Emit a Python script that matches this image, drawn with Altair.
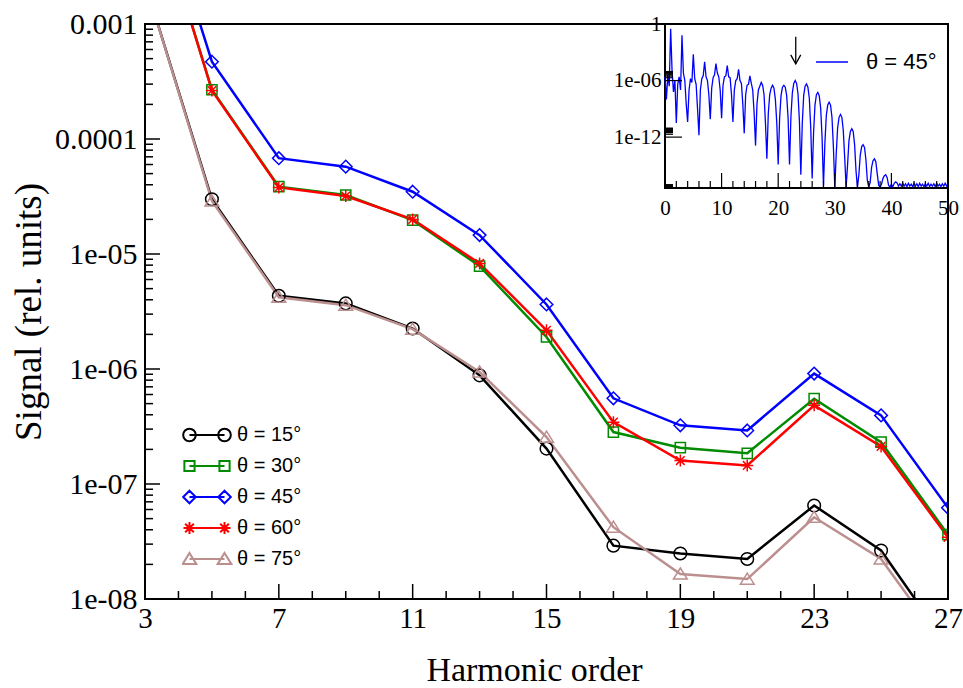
import json
import altair as alt
import pandas as pd

# ---------------- main panel data ----------------
harmonics = [3, 5, 7, 9, 11, 13, 15, 17, 19, 21, 23, 25, 27]
series_names = ["θ = 15°", "θ = 30°", "θ = 45°", "θ = 60°", "θ = 75°"]
signal_15 = [2.3e-3, 2.99e-5, 4.33e-6, 3.72e-6, 2.25e-6, 8.81e-7, 2.03e-7, 2.91e-8, 2.49e-8, 2.23e-8, 6.50e-8, 2.64e-8, 3.9e-9]
signal_30 = [2.1e-2, 2.68e-4, 3.85e-5, 3.26e-5, 1.97e-5, 7.85e-6, 1.90e-6, 2.83e-7, 2.07e-7, 1.85e-7, 5.52e-7, 2.31e-7, 3.63e-8]
signal_45 = [3.3e-2, 4.70e-4, 6.81e-5, 5.75e-5, 3.48e-5, 1.46e-5, 3.64e-6, 5.56e-7, 3.24e-7, 2.92e-7, 9.12e-7, 3.95e-7, 6.21e-8]
signal_60 = [2.1e-2, 2.64e-4, 3.79e-5, 3.19e-5, 2.00e-5, 8.28e-6, 2.17e-6, 3.45e-7, 1.60e-7, 1.45e-7, 4.83e-7, 2.12e-7, 3.44e-8]
signal_75 = [2.3e-3, 2.89e-5, 4.21e-6, 3.59e-6, 2.22e-6, 9.42e-7, 2.56e-7, 4.21e-8, 1.65e-8, 1.49e-8, 5.14e-8, 2.23e-8, 3.5e-9]
series_colors = ["#000000", "#008b00", "#0000ff", "#ff0000", "#bc8f8f"]
marker_kinds = ["circle", "square", "diamond", "asterisk", "triangle"]

x_domain = [3, 27]
y_domain = [1e-8, 1e-3]
x_major = [3, 7, 11, 15, 19, 23, 27]
x_minor = [4, 5, 6, 8, 9, 10, 12, 13, 14, 16, 17, 18, 20, 21, 22, 24, 25, 26]
y_major = [1e-8, 1e-7, 1e-6, 1e-5, 1e-4, 1e-3]
y_labels = ["0.001", "0.0001", "1e-05", "1e-06", "1e-07", "1e-08"]
y_minor = [m * 10.0 ** k for k in range(-8, -3) for m in range(2, 10)]

# ---------------- inset data (θ = 45° spectrum) ----------------
inset_label = "θ = 45°"
inset_order = [
    0, 0.25, 0.5, 0.75, 1, 1.25, 1.5, 1.75, 2, 2.25, 2.5, 2.75, 3, 3.25, 3.5, 3.75,
    4, 4.25, 4.5, 4.75, 5, 5.25, 5.5, 5.75, 6, 6.25, 6.5, 6.75, 7, 7.25, 7.5, 7.75,
    8, 8.25, 8.5, 8.75, 9, 9.25, 9.5, 9.75, 10, 10.25, 10.5, 10.75, 11, 11.25, 11.5, 11.75,
    12, 12.25, 12.5, 12.75, 13, 13.25, 13.5, 13.75, 14, 14.25, 14.5, 14.75, 15, 15.25, 15.5, 15.75,
    16, 16.25, 16.5, 16.75, 17, 17.25, 17.5, 17.75, 18, 18.25, 18.5, 18.75, 19, 19.25, 19.5, 19.75,
    20, 20.25, 20.5, 20.75, 21, 21.25, 21.5, 21.75, 22, 22.25, 22.5, 22.75, 23, 23.25, 23.5, 23.75,
    24, 24.25, 24.5, 24.75, 25, 25.25, 25.5, 25.75, 26, 26.25, 26.5, 26.75, 27, 27.25, 27.5, 27.75,
    28, 28.25, 28.5, 28.75, 29, 29.25, 29.5, 29.75, 30, 30.25, 30.5, 30.75, 31, 31.25, 31.5, 31.75,
    32, 32.25, 32.5, 32.75, 33, 33.25, 33.5, 33.75, 34, 34.25, 34.5, 34.75, 35, 35.25, 35.5, 35.75,
    36, 36.25, 36.5, 36.75, 37, 37.25, 37.5, 37.75, 38, 38.25, 38.5, 38.75, 39, 39.25, 39.5, 39.75,
    40, 40.25, 40.5, 40.75, 41, 41.25, 41.5, 41.75, 42, 42.25, 42.5, 42.75, 43, 43.25, 43.5, 43.75,
    44, 44.25, 44.5, 44.75, 45, 45.25, 45.5, 45.75, 46, 46.25, 46.5, 46.75, 47, 47.25, 47.5, 47.75,
    48, 48.25, 48.5, 48.75, 49, 49.25, 49.5, 49.75, 50,
]
inset_log10 = [
    -5.6, -8.0, -5.4, -6.6, -0.5, -5.0, -7.2, -6.0, -10.5, -6.4, -5.6, -7.0, -1.2, -5.2, -6.0, -8.5,
    -10.4, -7.0, -5.8, -6.2, -3.2, -5.8, -6.4, -9.0, -11.8, -7.0, -5.8, -5.5, -4.0, -5.6, -6.0, -7.5,
    -10.1, -6.8, -5.7, -5.4, -4.2, -5.2, -5.6, -7.0, -10.0, -6.5, -5.6, -5.5, -4.4, -5.6, -5.7, -7.5,
    -10.4, -7.0, -6.0, -5.8, -4.8, -6.0, -6.3, -8.5, -11.6, -7.5, -6.5, -6.4, -5.5, -6.3, -7.0, -9.5,
    -12.9, -8.5, -7.0, -6.6, -6.2, -6.5, -7.5, -10.5, -14.3, -9.5, -7.5, -6.8, -6.5, -6.8, -8.0, -10.5,
    -14.9, -10.0, -7.6, -6.7, -6.5, -6.7, -7.6, -10.0, -14.9, -9.8, -7.3, -6.3, -6.0, -6.3, -7.4, -10.3,
    -16.0, -10.6, -7.6, -6.6, -6.35, -6.7, -7.9, -11.0, -16.4, -11.5, -8.6, -7.5, -7.25, -7.6, -8.9, -12.0,
    -17.2, -12.6, -9.7, -8.6, -8.3, -8.6, -9.9, -13.0, -17.3, -13.8, -11.0, -9.9, -9.6, -9.9, -11.3, -14.2,
    -17.3, -15.0, -12.4, -11.4, -11.1, -11.4, -12.8, -15.6, -17.3, -16.0, -13.9, -13.0, -12.8, -13.1, -14.4, -16.6,
    -17.3, -16.8, -15.2, -14.5, -14.3, -14.6, -15.9, -17.1, -17.3, -17.0, -16.4, -16.1, -16.0, -16.3, -17.1, -17.3,
    -17.0, -17.25, -16.9, -16.75, -16.85, -17.2, -16.95, -17.2, -16.9, -17.2, -16.95, -17.25, -16.9, -17.2, -17.0, -17.25,
    -16.9, -17.2, -16.95, -17.25, -16.9, -17.2, -17.0, -17.25, -16.95, -17.2, -16.9, -17.25, -17.0, -17.2, -16.95, -17.25,
    -16.9, -17.2, -17.0, -17.25, -16.95, -17.2, -16.9, -17.2, -17.0,
]
inset_x_domain = [0, 50]
inset_y_domain = [4e-18, 1.0]
inset_x_labels = [0, 10, 20, 30, 40, 50]
inset_x_major = [10, 20, 30, 40]
inset_x_minor = [2, 4, 6, 8, 12, 14, 16, 18, 22, 24, 26, 28, 32, 34, 36, 38, 42, 44, 46, 48]
inset_y_major = [1.0, 1e-6, 1e-12]
inset_y_labels = ["1", "1e-06", "1e-12"]
inset_y_minor = [m * 10.0 ** k for k in (-6, -12, -18) for m in range(2, 10) if m * 10.0 ** k >= 4e-18]
arrow_order = [23.1]
arrow_top = [0.045]
arrow_tip = [5.9e-5]

# ---------------- geometry / style ----------------
W, H = 803, 575
IX0, IX1, IY1 = 520, 803, 164  # inset frame inside plot (pixels)
SERIF = "Liberation Serif"
SANS = "Liberation Sans"


def fmt(v):
    s = f"{v:.4f}".rstrip("0").rstrip(".")
    return "0" if s in ("-0", "") else s


def marker_path(kind, cx=0.0, s=1.0):
    def P(x, y):
        return f"{fmt(cx + x * s)},{fmt(y * s)}"
    if kind == "circle":
        r = 1.05
        rr = fmt(r * s)
        return f"M{P(r, 0)}A{rr},{rr},0,1,1,{P(-r, 0)}A{rr},{rr},0,1,1,{P(r, 0)}Z"
    if kind == "square":
        h = 0.85
        return f"M{P(-h, -h)}L{P(h, -h)}L{P(h, h)}L{P(-h, h)}Z"
    if kind == "diamond":
        r = 1.05
        return f"M{P(0, -r)}L{P(r, 0)}L{P(0, r)}L{P(-r, 0)}Z"
    if kind == "asterisk":
        a, d = 1.0, 0.72
        return (f"M{P(-a, 0)}L{P(a, 0)}M{P(0, -a)}L{P(0, a)}"
                f"M{P(-d, -d)}L{P(d, d)}M{P(-d, d)}L{P(d, -d)}")
    return f"M{P(0, -1.0)}L{P(1.15, 0.85)}L{P(-1.15, 0.85)}Z"


def legend_path(kind):
    c = 0.73
    return f"M{fmt(-c)},0L{fmt(c)},0" + marker_path(kind, -c, 0.25) + marker_path(kind, c, 0.25)


# ---------------- tables ----------------
all_signals = [signal_15, signal_30, signal_45, signal_60, signal_75]
df = pd.DataFrame({
    "order": harmonics * len(series_names),
    "signal": [v for s in all_signals for v in s],
    "series": [n for n in series_names for _ in harmonics],
})
inset_df = pd.DataFrame({
    "order": inset_order,
    "signal": [10.0 ** v for v in inset_log10],
    "label": [inset_label] * len(inset_order),
})

x_main = alt.Scale(domain=x_domain, nice=False, zero=False)
y_main = alt.Scale(type="log", domain=y_domain, nice=False)
x_in = alt.Scale(domain=inset_x_domain, range=[IX0, IX1], nice=False, zero=False)
y_in = alt.Scale(type="log", domain=inset_y_domain, range=[IY1, 0], nice=False)
color_scale = alt.Scale(domain=series_names, range=series_colors)
shape_plot = alt.Scale(domain=series_names, range=[marker_path(k) for k in marker_kinds])
shape_leg = alt.Scale(domain=series_names, range=[legend_path(k) for k in marker_kinds])

y_label_expr = json.dumps(y_labels) + "[round(-log(datum.value)/LN10) - 3]"
inset_label_expr = json.dumps(inset_y_labels) + "[round(-log(datum.value)/LN10/6)]"

# ---------------- main layers ----------------
main_frame = alt.Chart(pd.DataFrame({"x0": [x_domain[0]], "x1": [x_domain[1]],
                                     "y0": [y_domain[0]], "y1": [y_domain[1]]})).mark_rect(
    fillOpacity=0, stroke="black", strokeWidth=2).encode(
    x=alt.X("x0:Q", scale=x_main, axis=None), x2="x1",
    y=alt.Y("y0:Q", scale=y_main, axis=None), y2="y1")

lines = alt.Chart(df).mark_line(clip=True, strokeWidth=2.5).encode(
    x=alt.X("order:Q", scale=x_main, axis=alt.Axis(
        orient="bottom", values=x_major, format="d", ticks=False, domain=False, grid=False,
        labelFont=SERIF, labelFontSize=29, labelPadding=5, labelFlush=False, labelOverlap=False,
        labelColor="black", title="Harmonic order", titleFont=SERIF, titleFontSize=34,
        titleFontWeight="normal", titleColor="black", titlePadding=20, titleX=389)),
    y=alt.Y("signal:Q", scale=y_main, axis=alt.Axis(
        orient="left", values=y_major, labelExpr=y_label_expr, ticks=False, domain=False, grid=False,
        labelFont=SERIF, labelFontSize=30, labelPadding=8, labelFlush=False, labelOverlap=False,
        labelColor="black", title="Signal (rel. units)", titleFont=SERIF, titleFontSize=37,
        titleFontWeight="normal", titleColor="black", titlePadding=6)),
    color=alt.Color("series:N", scale=color_scale, legend=None),
)

points = alt.Chart(df).mark_point(filled=False, size=144, strokeWidth=1.5, clip=True, opacity=1).encode(
    x=alt.X("order:Q", scale=x_main, axis=None),
    y=alt.Y("signal:Q", scale=y_main, axis=None),
    color=alt.Color("series:N", scale=color_scale, legend=None),
    shape=alt.Shape("series:N", scale=shape_plot, legend=None),
)

leg = alt.Legend(orient="none", legendX=37, legendY=400, title=None, symbolSize=2304,
                 symbolStrokeWidth=2, symbolOpacity=1, labelFont=SANS, labelFontSize=20,
                 labelColor="black", labelOffset=5, rowPadding=9, clipHeight=22, padding=0)
legend_layer = alt.Chart(df).transform_filter("false").mark_point(filled=False, strokeWidth=2, opacity=1).encode(
    x=alt.X("order:Q", scale=x_main, axis=None),
    y=alt.Y("signal:Q", scale=y_main, axis=None),
    color=alt.Color("series:N", scale=color_scale, legend=leg),
    shape=alt.Shape("series:N", scale=shape_leg, legend=leg),
)

xt_major = alt.Chart(pd.DataFrame({"v": x_major})).mark_rule(color="black", strokeWidth=1.5).encode(
    x=alt.X("v:Q", scale=x_main, axis=None), y=alt.value(H), y2=alt.value(H - 15))
xt_minor = alt.Chart(pd.DataFrame({"v": x_minor})).mark_rule(color="black", strokeWidth=1.5).encode(
    x=alt.X("v:Q", scale=x_main, axis=None), y=alt.value(H), y2=alt.value(H - 8))
yt_major = alt.Chart(pd.DataFrame({"v": y_major})).mark_rule(color="black", strokeWidth=1.5).encode(
    y=alt.Y("v:Q", scale=y_main, axis=None), x=alt.value(0), x2=alt.value(15))
yt_minor = alt.Chart(pd.DataFrame({"v": y_minor})).mark_rule(color="black", strokeWidth=1.5).encode(
    y=alt.Y("v:Q", scale=y_main, axis=None), x=alt.value(0), x2=alt.value(8))

# ---------------- inset layers ----------------
frame = alt.Chart(pd.DataFrame({"x0": [inset_x_domain[0]], "x1": [inset_x_domain[1]],
                                "y0": [inset_y_domain[0]], "y1": [inset_y_domain[1]]})).mark_rect(
    fill="white", stroke="black", strokeWidth=2).encode(
    x=alt.X("x0:Q", scale=x_in, axis=None), x2="x1",
    y=alt.Y("y0:Q", scale=y_in, axis=None), y2="y1")

inset_line = alt.Chart(inset_df).mark_line(strokeWidth=1.3, clip=True).encode(
    x=alt.X("order:Q", scale=x_in, axis=alt.Axis(
        orient="bottom", offset=-(H - IY1), values=inset_x_labels, format="d", ticks=False,
        domain=False, grid=False, labelFont=SERIF, labelFontSize=21, labelPadding=9,
        labelFlush=False, labelOverlap=False, labelColor="black", title=None, zindex=1)),
    y=alt.Y("signal:Q", scale=y_in, axis=alt.Axis(
        orient="left", offset=-IX0, values=inset_y_major, labelExpr=inset_label_expr, ticks=False,
        domain=False, grid=False, labelFont=SERIF, labelFontSize=21, labelPadding=4,
        labelFlush=False, labelOverlap=False, labelColor="black", title=None, zindex=1)),
    color=alt.Color("label:N", scale=alt.Scale(domain=[inset_label], range=["#0000ff"]),
                    legend=alt.Legend(orient="none", legendX=670, legendY=21, title=None,
                                      symbolType="stroke", symbolSize=1024, symbolStrokeWidth=1.5,
                                      symbolOpacity=1, labelFont=SANS, labelFontSize=22,
                                      labelColor="black", labelOffset=17, padding=0)),
)

ixt_major = alt.Chart(pd.DataFrame({"v": inset_x_major})).mark_rule(color="black", strokeWidth=1.2).encode(
    x=alt.X("v:Q", scale=x_in, axis=None), y=alt.value(IY1), y2=alt.value(IY1 - 15))
ixt_minor = alt.Chart(pd.DataFrame({"v": inset_x_minor})).mark_rule(color="black", strokeWidth=1.2).encode(
    x=alt.X("v:Q", scale=x_in, axis=None), y=alt.value(IY1), y2=alt.value(IY1 - 7))
iyt_major = alt.Chart(pd.DataFrame({"v": inset_y_major})).mark_rule(color="black", strokeWidth=1.2).encode(
    y=alt.Y("v:Q", scale=y_in, axis=None), x=alt.value(IX0), x2=alt.value(IX0 + 17))
iyt_minor = alt.Chart(pd.DataFrame({"v": inset_y_minor})).mark_rule(color="black", strokeWidth=1.2).encode(
    y=alt.Y("v:Q", scale=y_in, axis=None), x=alt.value(IX0), x2=alt.value(IX0 + 8))

arrow_df = pd.DataFrame({"order": arrow_order, "top": arrow_top, "tip": arrow_tip})
arrow_shaft = alt.Chart(arrow_df).mark_rule(color="black", strokeWidth=1.3).encode(
    x=alt.X("order:Q", scale=x_in, axis=None),
    y=alt.Y("top:Q", scale=y_in, axis=None), y2="tip")
arrow_head = alt.Chart(arrow_df).mark_point(shape="M-1,-1.8L0,0L1,-1.8", size=100, filled=False,
                                            color="black", strokeWidth=1.3, opacity=1).encode(
    x=alt.X("order:Q", scale=x_in, axis=None),
    y=alt.Y("tip:Q", scale=y_in, axis=None))

chart = alt.layer(
    lines, points, xt_major, xt_minor, yt_major, yt_minor,
    frame, inset_line, ixt_major, ixt_minor, iyt_major, iyt_minor, arrow_shaft, arrow_head,
    main_frame, legend_layer,
).resolve_scale(
    x="independent", y="independent", color="independent", shape="independent"
).properties(
    width=W, height=H, autosize=alt.AutoSizeParams(type="none"),
    padding={"left": 145, "top": 24, "right": 15, "bottom": 89},
    background="white",
).configure(font=SERIF).configure_view(stroke="black", strokeWidth=2)

chart.save("out.html", embed_options={"renderer": "svg", "actions": False})
